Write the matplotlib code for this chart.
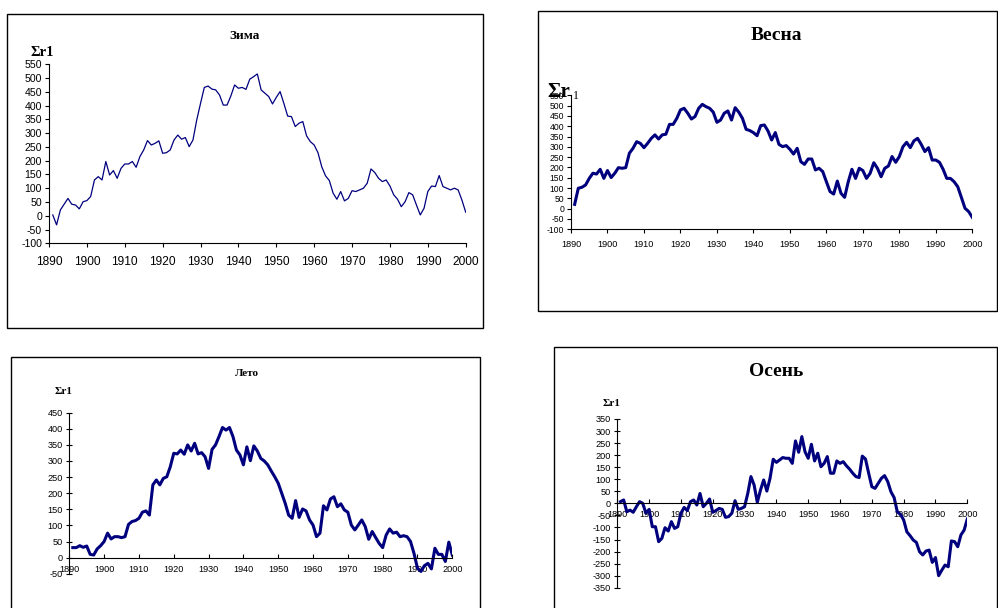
import numpy as np
import matplotlib
matplotlib.use("Agg")
import matplotlib.pyplot as plt
from matplotlib.patches import Rectangle

plt.rcParams['font.family'] = ['Liberation Sans', 'DejaVu Sans']
plt.rcParams['axes.unicode_minus'] = False

years = list(range(1891, 2001))

# Зима (winter) cumulative sums
zima = [3, -33, 21, 42, 63, 42, 39, 25, 51, 55,
        70, 130, 142, 130, 197, 148, 164, 136, 172, 188,
        188, 197, 176, 215, 239, 273, 257, 263, 272, 227,
        229, 239, 275, 293, 278, 284, 251, 275, 348, 408,
        466, 471, 460, 457, 439, 402, 402, 435, 475, 463,
        466, 459, 496, 505, 515, 457, 445, 433, 406, 430,
        451, 408, 362, 360, 324, 336, 342, 290, 269, 257,
        229, 178, 145, 128, 82, 60, 88, 54, 63, 91,
        88, 94, 100, 118, 170, 157, 136, 124, 130, 108,
        76, 60, 33, 51, 84, 76, 39, 3, 27, 88,
        108, 106, 146, 106, 100, 94, 100, 94, 57, 13]

# Весна (spring)
vesna = [21, 99, 104, 115, 147, 172, 168, 191, 147, 185,
         151, 172, 199, 196, 199, 269, 293, 325, 317, 296,
         317, 341, 358, 338, 358, 361, 409, 409, 438, 479,
         487, 463, 435, 447, 487, 506, 495, 487, 468, 419,
         430, 463, 474, 430, 490, 468, 438, 385, 379, 369,
         354, 403, 406, 377, 333, 369, 312, 301, 306, 288,
         265, 293, 228, 215, 241, 241, 188, 196, 180, 131,
         83, 71, 134, 75, 55, 131, 191, 147, 196, 185,
         147, 172, 223, 196, 155, 196, 207, 253, 225, 253,
         301, 322, 296, 329, 341, 312, 277, 296, 236, 236,
         225, 191, 147, 147, 131, 107, 55, 2, -14, -42]

# Лето (summer)
leto = [31, 31, 37, 32, 36, 10, 8, 27, 37, 50,
        76, 58, 65, 65, 62, 65, 103, 112, 115, 122,
        141, 145, 132, 226, 241, 226, 246, 251, 282, 324,
        322, 334, 321, 350, 331, 355, 322, 326, 313, 277,
        336, 350, 376, 404, 396, 404, 376, 334, 319, 288,
        344, 301, 347, 331, 308, 300, 288, 269, 251, 231,
        200, 169, 132, 122, 177, 125, 151, 145, 117, 101,
        65, 76, 161, 148, 182, 189, 158, 167, 148, 141,
        101, 86, 101, 117, 96, 57, 81, 62, 44, 31,
        70, 89, 76, 79, 65, 68, 65, 50, 13, -33,
        -43, -25, -18, -35, 29, 10, 10, -12, 48, 8]

# Осень (autumn)
osen = [7, 14, -35, -28, -37, -14, 7, 0, -41, -25,
        -97, -97, -159, -145, -101, -115, -76, -104, -97, -41,
        -17, -30, 7, 14, -7, 41, -14, 0, 18, -37,
        -30, -21, -25, -58, -55, -41, 11, -25, -21, -14,
        41, 111, 76, 4, 55, 97, 51, 104, 183, 170,
        180, 190, 187, 187, 166, 259, 212, 277, 214, 187,
        245, 176, 208, 152, 166, 194, 125, 125, 176, 166,
        173, 156, 142, 125, 111, 107, 196, 184, 125, 69,
        62, 83, 104, 115, 90, 48, 24, -35, -46, -69,
        -118, -134, -152, -162, -201, -214, -198, -194, -245, -225,
        -300, -277, -256, -263, -156, -159, -180, -131, -111, -65]

x_ticks = list(range(1890, 2001, 10))

W, H = 998, 608
fig = plt.figure(figsize=(W / 100, H / 100), dpi=100)
fig.patch.set_facecolor('white')

navy = '#00007f'


def px_axes(x0, x1, ytop, ybot):
    return fig.add_axes([x0 / W, 1 - ybot / H, (x1 - x0) / W, (ybot - ytop) / H])


def px_box(x0, y0, x1, y1, lw=1.0):
    fig.add_artist(Rectangle((x0 / W, 1 - y1 / H), (x1 - x0) / W, (y1 - y0) / H,
                             transform=fig.transFigure, fill=False,
                             edgecolor='black', linewidth=lw, clip_on=False))


def px_text(x, y, s, **kw):
    fig.text(x / W, 1 - y / H, s, **kw)


serif = ['Liberation Serif', 'DejaVu Serif']

# ---------- Зима ----------
px_box(7, 14, 483, 328)
ax = px_axes(49, 465.7, 64.3, 243.3)
ax.plot(years, zima, color=navy, lw=0.9)
ax.set_xlim(1890, 2000)
ax.set_ylim(-100, 550)
ax.set_yticks(range(-100, 551, 50))
ax.set_xticks(x_ticks)
ax.spines[['top', 'right']].set_visible(False)
ax.tick_params(axis='y', direction='out', length=3, width=0.8, pad=2, labelsize=7.6)
ax.tick_params(axis='x', direction='out', length=3, width=0.8, pad=6, labelsize=8.6)
for s in ax.spines.values():
    s.set_linewidth(0.8)
px_text(245, 36, 'Зима', family=serif, weight='bold', fontsize=9.5, ha='center', va='center')
px_text(42, 52, 'Σr1', family=serif, weight='bold', fontsize=10.5, ha='center', va='center')

# ---------- Весна ----------
px_box(538, 11, 997, 311)
ax = px_axes(571, 972.3, 95.3, 229.3)
ax.plot(years, vesna, color=navy, lw=2.2)
ax.set_xlim(1890, 2000)
ax.set_ylim(-100, 550)
ax.set_yticks(range(-100, 551, 50))
ax.set_xticks(x_ticks)
ax.spines[['top', 'right']].set_visible(False)
ax.tick_params(axis='y', direction='out', length=3, width=0.8, pad=2, labelsize=6.2)
ax.tick_params(axis='x', direction='out', length=3, width=0.8, pad=5, labelsize=6.6)
for s in ax.spines.values():
    s.set_linewidth(0.8)
px_text(776, 36, 'Весна', family=serif, weight='bold', fontsize=14, ha='center', va='center')
px_text(559, 92, 'Σr', family=serif, weight='bold', fontsize=15, ha='center', va='center')
px_text(576, 96, '1', family=serif, fontsize=8.5, ha='center', va='center')

# ---------- Лето ----------
px_box(11, 357.5, 480, 620)
ax = px_axes(69.3, 452.3, 412.7, 573.7)
ax.plot(years, leto, color=navy, lw=2.2)
ax.set_xlim(1890, 2000)
ax.set_ylim(-50, 450)
ax.set_yticks(range(-50, 451, 50))
ax.set_xticks(x_ticks)
ax.spines[['top', 'right']].set_visible(False)
ax.spines['bottom'].set_position(('data', 0))
ax.tick_params(axis='y', direction='inout', length=5, width=0.8, pad=2, labelsize=6.6)
ax.tick_params(axis='x', direction='in', length=3, width=0.8, pad=5, labelsize=6.6)
for s in ax.spines.values():
    s.set_linewidth(0.8)
px_text(247, 374, 'Лето', family=serif, weight='bold', fontsize=8, ha='center', va='center')
px_text(64, 392, 'Σr1', family=serif, weight='bold', fontsize=8, ha='center', va='center')

# ---------- Осень ----------
px_box(554, 347, 997, 620)
ax = px_axes(617.3, 967.3, 419, 587.7)
ax.plot(years, osen, color=navy, lw=2.2)
ax.set_xlim(1890, 2000)
ax.set_ylim(-350, 350)
ax.set_yticks(range(-350, 351, 50))
ax.set_xticks(x_ticks)
ax.spines[['top', 'right']].set_visible(False)
ax.spines['bottom'].set_position(('data', 0))
ax.tick_params(axis='y', direction='inout', length=5, width=0.8, pad=2, labelsize=6.6)
ax.tick_params(axis='x', direction='in', length=3, width=0.8, pad=5, labelsize=6.6)
for s in ax.spines.values():
    s.set_linewidth(0.8)
px_text(776, 372, 'Осень', family=serif, weight='bold', fontsize=14, ha='center', va='center')
px_text(612, 404, 'Σr1', family=serif, weight='bold', fontsize=8, ha='center', va='center')

fig.savefig('out.png', dpi=100, facecolor='white')
